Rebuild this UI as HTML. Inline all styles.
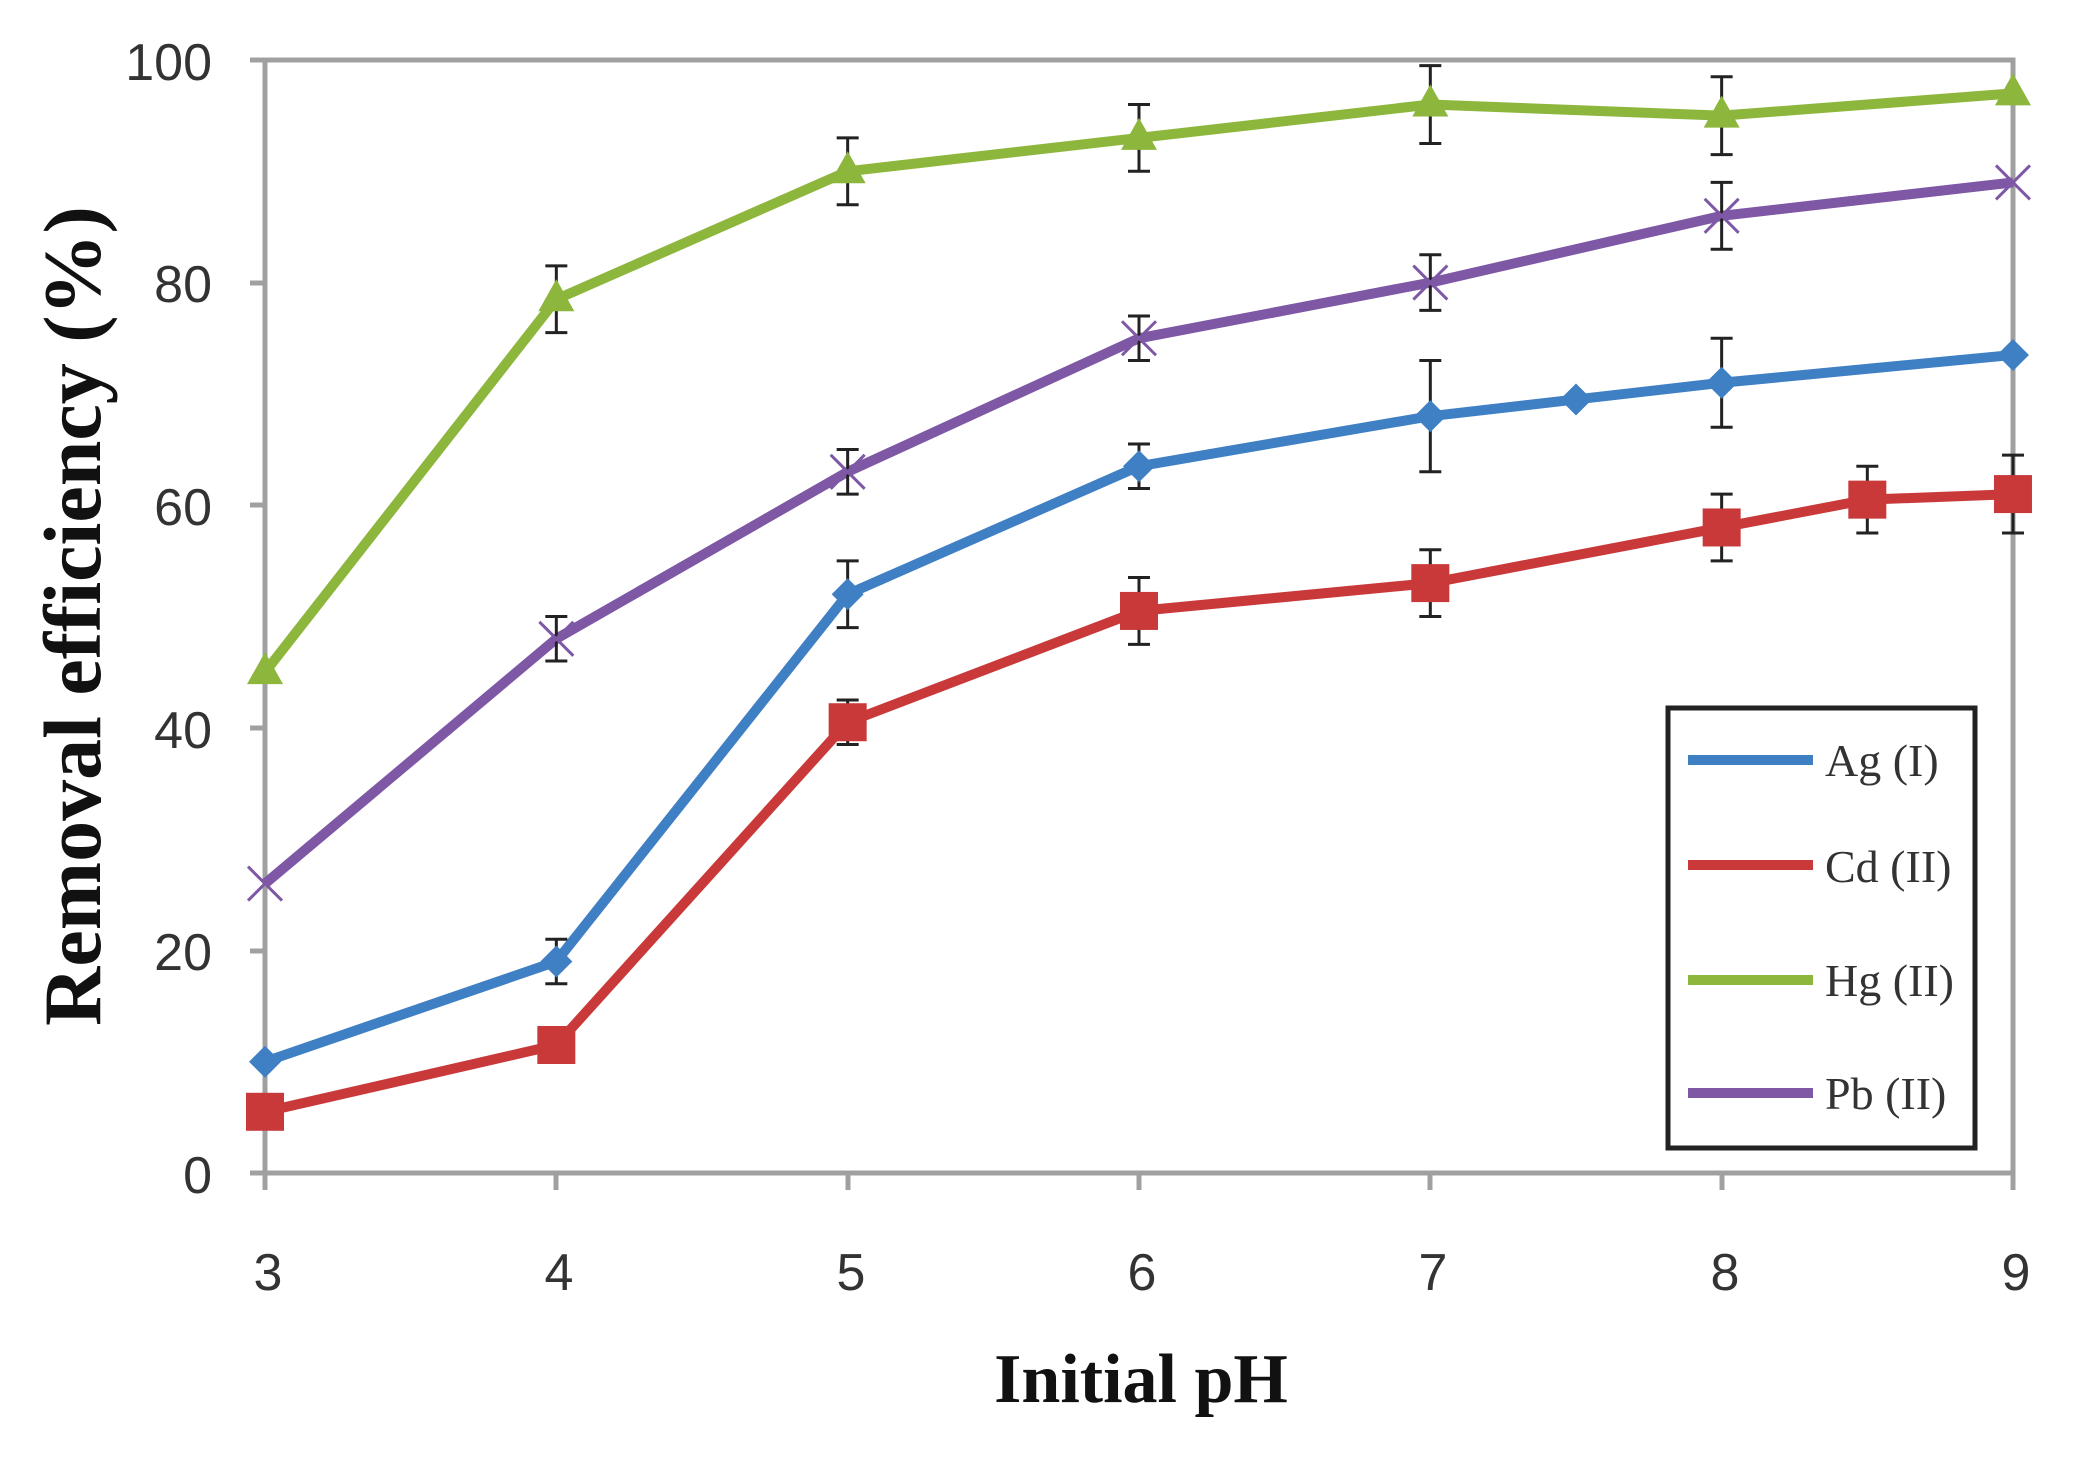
<!DOCTYPE html>
<html><head><meta charset="utf-8"><style>html,body{margin:0;padding:0;background:#fff}svg{display:block}</style></head>
<body>
<svg id="s" width="2076" height="1458" viewBox="0 0 2076 1458" xmlns="http://www.w3.org/2000/svg">
<rect width="2076" height="1458" fill="#fff"/>
<g stroke="#a0a0a0" stroke-width="5" fill="none">
<rect x="265" y="60" width="1748" height="1113"/>
<line x1="250" y1="60" x2="265" y2="60"/><line x1="250" y1="283" x2="265" y2="283"/><line x1="250" y1="505" x2="265" y2="505"/><line x1="250" y1="728" x2="265" y2="728"/><line x1="250" y1="951" x2="265" y2="951"/><line x1="250" y1="1173" x2="265" y2="1173"/>
<line x1="265" y1="1173" x2="265" y2="1190"/><line x1="556" y1="1173" x2="556" y2="1190"/><line x1="848" y1="1173" x2="848" y2="1190"/><line x1="1139" y1="1173" x2="1139" y2="1190"/><line x1="1430" y1="1173" x2="1430" y2="1190"/><line x1="1722" y1="1173" x2="1722" y2="1190"/><line x1="2013" y1="1173" x2="2013" y2="1190"/>
</g>
<g font-family="Liberation Sans, sans-serif" font-size="52" fill="#333" text-anchor="end">
<text x="212" y="80">100</text><text x="212" y="302">80</text><text x="212" y="525">60</text><text x="212" y="748">40</text><text x="212" y="970">20</text><text x="212" y="1193">0</text>
</g>
<g font-family="Liberation Sans, sans-serif" font-size="52" fill="#333" text-anchor="middle">
<text x="268" y="1290">3</text><text x="559" y="1290">4</text><text x="851" y="1290">5</text><text x="1142" y="1290">6</text><text x="1433" y="1290">7</text><text x="1725" y="1290">8</text><text x="2016" y="1290">9</text>
</g>
<text x="1141" y="1402" font-family="Liberation Serif, serif" font-weight="bold" font-size="70" text-anchor="middle" fill="#111">Initial  pH</text>
<text transform="translate(100,616) rotate(-90)" font-family="Liberation Serif, serif" font-weight="bold" font-size="82" text-anchor="middle" fill="#111">Removal efficiency (%)</text>
<g id="data"></g>
<rect x="1668" y="708" width="307" height="440" fill="#fff" stroke="#222" stroke-width="5"/>
<g stroke-width="10"><line x1="1688" y1="760" x2="1813" y2="760" stroke="#3f7fc4"/><line x1="1688" y1="865" x2="1813" y2="865" stroke="#c9393a"/><line x1="1688" y1="980" x2="1813" y2="980" stroke="#8db63c"/><line x1="1688" y1="1093" x2="1813" y2="1093" stroke="#7e57a5"/></g>
<g font-family="Liberation Serif, serif" font-size="46" fill="#333">
<text x="1825" y="776">Ag (I)</text><text x="1825" y="882">Cd (II)</text><text x="1825" y="996">Hg (II)</text><text x="1825" y="1109">Pb (II)</text>
</g>
</svg>
<script>
var X=function(p){return 265+(p-3)*291.33},Y=function(v){return 1173-v*11.13};
var S=[
{c:"#8db63c",m:"t",d:[[3,45,0],[4,78.5,3],[5,90,3],[6,93,3],[7,96,3.5],[8,95,3.5],[9,97,0]]},
{c:"#7e57a5",m:"x",d:[[3,26,0],[4,48,2],[5,63,2],[6,75,2],[7,80,2.5],[8,86,3],[9,89,0]]},
{c:"#3f7fc4",m:"d",d:[[3,10,0],[4,19,2],[5,52,3],[6,63.5,2],[7,68,5],[7.5,69.5,0],[8,71,4],[9,73.5,0]]},
{c:"#c9393a",m:"s",d:[[3,5.5,0],[4,11.5,0],[5,40.5,2],[6,50.5,3],[7,53,3],[8,58,3],[8.5,60.5,3],[9,61,3.5]]}];
var h="";
S.forEach(function(s){
 h+='<polyline fill="none" stroke="'+s.c+'" stroke-width="10" stroke-linejoin="round" points="'+s.d.map(function(p){return X(p[0])+","+Y(p[1])}).join(" ")+'"/>';
});
S.forEach(function(s){
 s.d.forEach(function(p){var x=X(p[0]),y=Y(p[1]);
  if(p[2]){var a=Y(p[1]+p[2]),b=Y(p[1]-p[2]);h+='<path d="M'+x+' '+a+'V'+b+'M'+(x-11)+' '+a+'h22M'+(x-11)+' '+b+'h22" stroke="#222" stroke-width="3" fill="none"/>';}
  if(s.m=="t")h+='<path d="M'+x+','+(y-20)+'l-18,32h36z" fill="'+s.c+'"/>';
  if(s.m=="s")h+='<rect x="'+(x-19)+'" y="'+(y-19)+'" width="38" height="38" fill="'+s.c+'"/>';
  if(s.m=="d")h+='<path d="M'+x+','+(y-16)+'l16,16l-16,16l-16,-16z" fill="'+s.c+'"/>';
  if(s.m=="x")h+='<path d="M'+(x-17)+','+(y-17)+'l34,34M'+(x+17)+','+(y-17)+'l-34,34" stroke="'+s.c+'" stroke-width="3"/>';
 });
});
document.getElementById("data").innerHTML=h;
</script>
</body></html>
